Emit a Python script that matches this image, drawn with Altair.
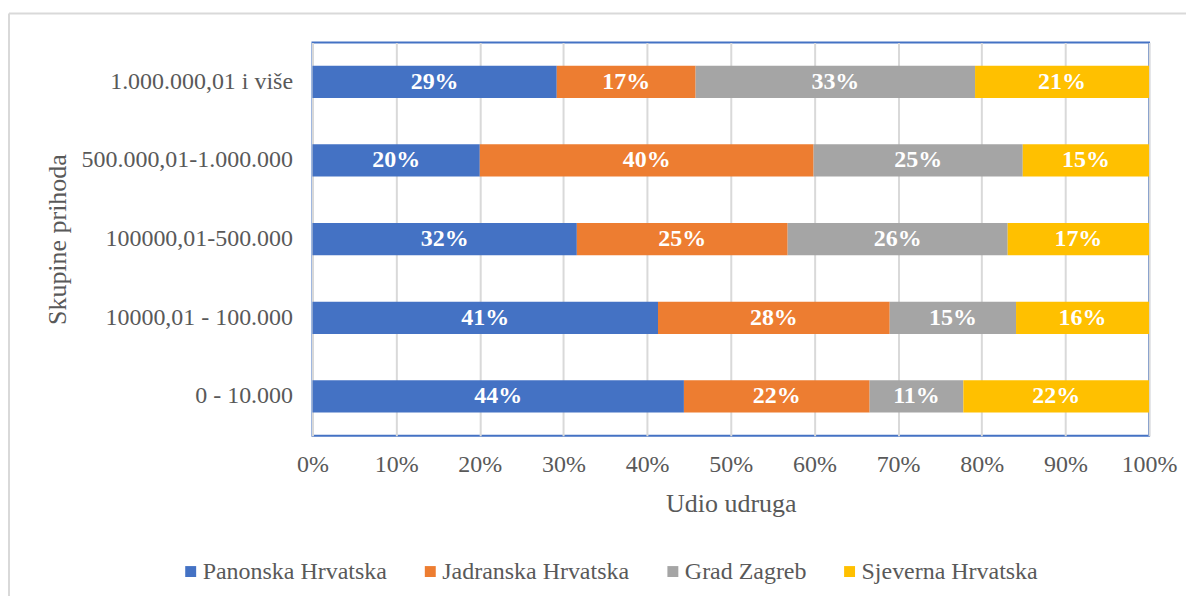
import altair as alt
import pandas as pd

categories = ["1.000.000,01 i više", "500.000,01-1.000.000", "100000,01-500.000",
              "10000,01 - 100.000", "0 - 10.000"]
series = ["Panonska Hrvatska", "Jadranska Hrvatska", "Grad Zagreb", "Sjeverna Hrvatska"]
colors = ["#4472c4", "#ed7d31", "#a5a5a5", "#ffc000"]

panonska = [29.2, 20.0, 31.6, 41.3, 44.4]
jadranska = [16.6, 39.9, 25.2, 27.7, 22.2]
zagreb = [33.4, 25.0, 26.3, 15.1, 11.2]
sjeverna = [20.8, 15.1, 16.9, 15.9, 22.2]
labels_pan = ["29%", "20%", "32%", "41%", "44%"]
labels_jad = ["17%", "40%", "25%", "28%", "22%"]
labels_zg = ["33%", "25%", "26%", "15%", "11%"]
labels_sj = ["21%", "15%", "17%", "16%", "22%"]

rows = []
for si, (s, vals, labs) in enumerate(zip(series, [panonska, jadranska, zagreb, sjeverna],
                                         [labels_pan, labels_jad, labels_zg, labels_sj])):
    for c, v, l in zip(categories, vals, labs):
        rows.append({"grupa": c, "regija": s, "udio": v, "oznaka": l, "red": si})
df = pd.DataFrame(rows)

FONT = "Liberation Serif"
GREY = "#595959"

base = alt.Chart(df).transform_stack(
    stack="udio", as_=["x0", "x1"], groupby=["grupa"], sort=[alt.SortField("red", "ascending")]
).transform_calculate(mid="(datum.x0 + datum.x1) / 2")

yenc = alt.Y("grupa:N", sort=categories,
             scale=alt.Scale(paddingInner=0.59, paddingOuter=0.295),
             axis=alt.Axis(title="Skupine prihoda", labelFont=FONT, labelFontSize=24,
                           labelColor=GREY, titleFont=FONT, titleFontSize=26,
                           titleFontWeight="normal", titleColor=GREY, titlePadding=42,
                           labelPadding=20, labelLimit=400, ticks=False, domain=False,
                           grid=False))

bars = base.mark_bar().encode(
    x=alt.X("x0:Q", scale=alt.Scale(domain=[0, 100], nice=False),
            axis=alt.Axis(title="Udio udruga", values=list(range(0, 101, 10)),
                          labelExpr="datum.value + '%'", labelFont=FONT, labelFontSize=24,
                          labelColor=GREY, titleFont=FONT, titleFontSize=26,
                          titleFontWeight="normal", titleColor=GREY, titlePadding=14,
                          labelPadding=17, ticks=False, domain=False, grid=True,
                          gridColor="#d9d9d9", gridWidth=2, labelFlush=False)),
    x2="x1:Q",
    y=yenc,
    color=alt.Color("regija:N", scale=alt.Scale(domain=series, range=colors),
                    legend=alt.Legend(title=None, orient="none", direction="horizontal",
                                      legendX=-134, legendY=518, symbolType="square",
                                      symbolSize=120, symbolStrokeWidth=0,
                                      labelFont=FONT, labelFontSize=24, labelColor=GREY,
                                      labelOffset=0, columnPadding=31, labelLimit=400)),
    order=alt.Order("red:Q"),
)

text = base.mark_text(font=FONT, fontSize=24, fontWeight="bold", color="white").encode(
    x=alt.X("mid:Q"),
    y=alt.Y("grupa:N", sort=categories),
    text="oznaka:N",
)

frame = alt.Chart(alt.Data(values=[{"a": 1}]))
top_line = frame.mark_rule(color="#d9d9d9", strokeWidth=2).encode(
    x=alt.value(-304), x2=alt.value(900), y=alt.value(-29))
left_line = frame.mark_rule(color="#d9d9d9", strokeWidth=2).encode(
    x=alt.value(-304), y=alt.value(-29), y2=alt.value(600))

chart = alt.layer(bars, text, top_line, left_line).properties(
    width=838, height=394,
    autosize=alt.AutoSizeParams(type="none"),
    padding={"left": 305, "top": 34, "right": 37, "bottom": 160},
    background="white",
).configure_view(stroke="#4472c4", strokeWidth=2
).configure_legend(labelFont=FONT, labelFontSize=24, labelColor=GREY)

chart.save("out.html", embed_options={"renderer": "svg", "actions": False})
